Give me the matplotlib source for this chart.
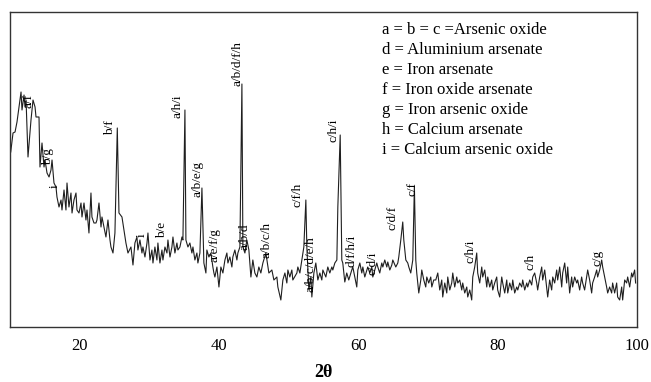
import matplotlib.pyplot as plt

# XRD pattern, intensity in arbitrary units
two_theta = [10.1, 10.43, 10.72, 11.0, 11.58, 11.72, 12.01, 12.15, 12.3, 12.58, 13.01, 13.3, 13.59, 13.73,
             14.16, 14.3, 14.59, 14.88, 15.02, 15.31, 15.6, 15.88, 16.03, 16.31, 16.6, 16.74, 17.03, 17.32,
             17.46, 17.75, 18.03, 18.18, 18.46, 18.75, 18.9, 19.18, 19.47, 19.61, 19.9, 20.19, 20.33, 20.62,
             20.9, 21.05, 21.33, 21.62, 21.76, 22.05, 22.34, 22.48, 22.77, 23.06, 23.2, 23.49, 23.77, 24.06,
             24.35, 24.49, 24.78, 25.06, 25.4, 25.64, 26.07, 26.36, 26.64, 26.93, 27.36, 27.65, 27.93, 28.22,
             28.36, 28.65, 28.94, 29.08, 29.37, 29.66, 29.8, 30.09, 30.37, 30.52, 30.8, 31.09, 31.23, 31.52,
             31.81, 31.95, 32.24, 32.53, 32.67, 32.96, 33.24, 33.39, 33.67, 33.96, 34.1, 34.39, 34.68, 34.82,
             35.11, 35.25, 35.54, 35.82, 36.11, 36.26, 36.54, 36.83, 36.97, 37.26, 37.55, 37.83, 38.12, 38.26,
             38.55, 38.84, 39.12, 39.27, 39.41, 39.7, 39.99, 40.27, 40.56, 40.85, 41.13, 41.28, 41.56, 41.85,
             41.99, 42.28, 42.57, 42.71, 43.0, 43.29, 43.43, 43.72, 44.0, 44.29, 44.58, 44.86, 45.15, 45.44,
             45.72, 46.01, 46.3, 46.73, 47.02, 47.16, 47.59, 47.88, 48.31, 48.45, 48.88, 49.17, 49.46, 49.74,
             49.89, 50.17, 50.46, 50.6, 51.18, 51.32, 51.61, 51.89, 52.18, 52.47, 52.61, 52.9, 53.19, 53.33,
             53.62, 53.9, 54.19, 54.48, 54.76, 54.91, 55.34, 55.62, 55.91, 56.2, 56.34, 56.63, 56.92, 57.06,
             57.4, 57.63, 57.77, 58.06, 58.34, 58.63, 59.06, 59.21, 59.5, 59.78, 59.93, 60.22, 60.5, 60.65,
             60.93, 61.22, 61.36, 61.65, 61.94, 62.08, 62.37, 62.65, 62.8, 63.08, 63.37, 63.52, 63.8, 64.09,
             64.23, 64.52, 64.81, 64.95, 65.38, 65.67, 65.81, 66.1, 66.38, 66.53, 66.82, 67.1, 67.25, 67.53,
             67.82, 68.05, 68.25, 68.39, 68.68, 68.97, 69.11, 69.4, 69.68, 69.83, 70.11, 70.4, 70.55, 70.83,
             71.12, 71.41, 71.69, 71.98, 72.12, 72.41, 72.7, 72.84, 73.13, 73.41, 73.56, 73.84, 74.13, 74.28,
             74.56, 74.85, 74.99, 75.28, 75.57, 75.71, 76.0, 76.28, 76.43, 76.71, 77.0, 77.14, 77.43, 77.72,
             77.86, 78.15, 78.44, 78.58, 78.87, 79.15, 79.3, 79.58, 79.87, 80.01, 80.3, 80.59, 80.73, 81.02,
             81.31, 81.45, 81.74, 82.02, 82.17, 82.45, 82.74, 82.89, 83.17, 83.46, 83.6, 83.89, 84.18, 84.32,
             84.61, 84.89, 85.04, 85.32, 85.61, 85.75, 86.04, 86.33, 86.47, 86.76, 87.04, 87.19, 87.47, 87.76,
             87.91, 88.19, 88.48, 88.62, 88.91, 89.2, 89.34, 89.63, 89.91, 90.06, 90.34, 90.63, 90.77, 91.06,
             91.35, 91.49, 91.78, 92.06, 92.21, 92.49, 92.78, 92.93, 93.21, 93.5, 93.64, 93.93, 94.22, 94.36,
             94.65, 94.94, 95.08, 95.37, 95.65, 95.8, 96.08, 96.37, 96.51, 96.8, 97.09, 97.23, 97.52, 97.81,
             97.95, 98.24, 98.52, 98.67, 98.96, 99.24, 99.39, 99.67, 99.81]
intensity = [173, 192, 193, 203, 233, 215, 230, 218, 225, 168, 205, 225, 218, 208,
             208, 158, 182, 158, 165, 152, 148, 155, 165, 142, 138, 128, 118, 125,
             115, 135, 115, 142, 118, 132, 112, 125, 132, 115, 112, 122, 108, 122,
             105, 115, 92, 132, 108, 102, 102, 105, 122, 98, 108, 98, 88, 105,
             85, 78, 72, 92, 197, 112, 108, 95, 82, 72, 78, 60, 82, 88,
             75, 85, 72, 78, 68, 82, 92, 65, 75, 62, 78, 65, 82, 62,
             75, 65, 78, 72, 85, 68, 78, 88, 72, 82, 75, 78, 88, 85,
             215, 85, 78, 82, 72, 78, 65, 72, 62, 72, 137, 62, 52, 75,
             68, 72, 58, 52, 48, 58, 38, 58, 52, 65, 72, 62, 68, 58,
             68, 75, 65, 72, 78, 241, 78, 72, 85, 75, 48, 65, 52, 48,
             58, 52, 62, 72, 58, 52, 55, 45, 48, 38, 25, 45, 52, 42,
             55, 48, 55, 45, 52, 58, 52, 65, 78, 125, 78, 35, 48, 28,
             52, 62, 45, 52, 45, 55, 48, 58, 52, 58, 55, 62, 65, 118,
             190, 65, 62, 43, 52, 45, 55, 58, 48, 38, 55, 62, 52, 58,
             48, 55, 58, 52, 58, 48, 55, 62, 58, 52, 62, 58, 65, 58,
             63, 55, 60, 65, 58, 62, 68, 85, 103, 85, 65, 62, 58, 52,
             65, 139, 65, 52, 32, 45, 55, 45, 38, 48, 42, 48, 38, 45,
             45, 52, 35, 45, 28, 42, 32, 48, 35, 42, 52, 38, 48, 42,
             45, 35, 42, 32, 38, 28, 35, 25, 48, 58, 72, 52, 42, 58,
             48, 55, 38, 48, 38, 45, 35, 42, 48, 35, 28, 48, 42, 32,
             45, 32, 42, 35, 45, 32, 38, 35, 42, 38, 45, 35, 42, 38,
             45, 40, 48, 52, 42, 35, 48, 58, 45, 55, 38, 28, 45, 35,
             48, 42, 55, 45, 58, 38, 52, 62, 42, 58, 32, 48, 38, 48,
             42, 45, 35, 48, 42, 35, 48, 55, 45, 32, 42, 48, 55, 48,
             55, 65, 58, 48, 38, 32, 38, 32, 42, 32, 42, 28, 25, 38,
             25, 45, 42, 48, 38, 52, 48, 55, 42]

peak_labels = ['a/f', 'b/g', 'i', 'b/f', 'i', 'b/e', 'a/h/i', 'a/b/e/g', 'a/e/f/g', 'a/b/d/f/h',
               'a/b/d', 'a/b/c/h', 'c/f/h', 'a/b/c/d/e/h', 'c/h/i', 'd/f/h/i', 'c/d/i', 'c/d/f',
               'c/f', 'c/h/i', 'c/h', 'c/g']
peak_x = [12.7, 15.45, 16.45, 24.35, 28.95, 31.8, 34.1, 36.95, 39.4, 42.7,
          43.6, 46.85, 51.2, 53.2, 56.5, 59.05, 62.1, 64.95,
          67.8, 76.15, 84.75, 94.35]
peak_y = [217, 160, 137, 190, 88, 87, 207, 128, 63, 239,
          75, 67, 118, 33, 183, 58, 50, 95,
          129, 62, 55, 59]

phases = ['a = b = c =Arsenic oxide', 'd = Aluminium arsenate', 'e = Iron arsenate',
          'f = Iron oxide arsenate', 'g = Iron arsenic oxide', 'h = Calcium arsenate',
          'i = Calcium arsenic oxide']

plt.rcParams['font.family'] = ['Liberation Serif', 'DejaVu Serif']

fig = plt.figure(figsize=(6.51, 3.82), dpi=100)
ax = fig.add_axes([0.0154, 0.144, 0.963, 0.8246])
ax.plot(two_theta, intensity, color='#1f1f1f', lw=0.8)
ax.set_xlim(10, 100)
ax.set_ylim(-2, 313)
ax.set_xticks([20, 40, 60, 80, 100])
ax.set_yticks([])
ax.tick_params(axis='x', length=0, labelsize=12, pad=8)
ax.set_xlabel('2θ', fontsize=13, fontweight='bold', labelpad=7)
for s in ax.spines.values():
    s.set_color('#333333')
    s.set_linewidth(1.0)

# peak assignments
for lab, x, y in zip(peak_labels, peak_x, peak_y):
    ax.text(x, y, lab, rotation=90, ha='center', va='bottom', fontsize=9.5)

# phase key
for i, s in enumerate(phases):
    ax.text(0.593, 0.943 - i * 0.0635, s, transform=ax.transAxes, fontsize=12, va='center')

fig.savefig('out.png', dpi=100)
